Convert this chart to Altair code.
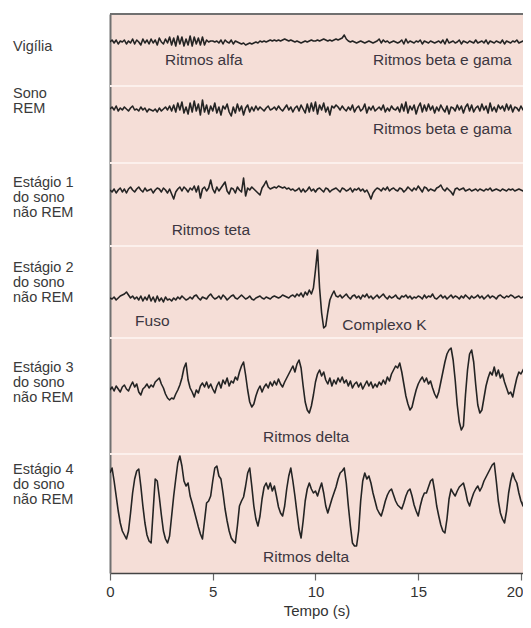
import altair as alt
import pandas as pd
import numpy as np

# ---------------- data ----------------
# time axis: one sample every 0.1 s, 0.0 .. 20.5 s
step = 0.1
n_samples = 206

# amplitudes (arbitrary units, up = positive)
vigilia = [
    0, 2, -1, 2, -2, 1, 0, 2, -2, 1,
    -1, 3, -2, 2, 0, -3, 3, -1, 2, -2,
    3, -1, 2, -3, 4, 0, -2, 3, -1, 5,
    -3, 4, -4, 6, -2, 5, -4, 3, -3, 6,
    -4, 5, -2, 4, -3, 5, -3, 2, 0, 1,
    1, 0, 1, -1, 2, -2, 2, 0, -1, 2,
    -2, 1, 0, -1, -2, -1, -3, -2, -1, -2,
    -1, 0, -1, 1, 0, 1, 0, 1, 2, 1,
    2, 1, 2, 1, 2, 3, 2, 1, 2, 1,
    0, 1, 0, -1, 0, 1, 0, 1, 2, 1,
    1, 2, 1, 2, 3, 2, 1, 2, 1, 2,
    3, 2, 3, 4, 7, 3, 1, 0, 1, 0,
    -1, 0, 1, 0, -1, 0, 1, 0, -1, 0,
    1, 3, -1, 2, 0, 1, -1, 0, 1, 0,
    -1, 0, 2, -2, 3, -1, 1, 0, -1, 1,
    0, 2, -2, 1, 0, -1, 1, 0, -1, 0,
    1, -1, 2, -2, 3, -1, 0, 1, -1, 0,
    2, -2, 1, 0, -1, 1, 0, -1, 2, -1,
    0, 1, -1, 2, -2, 1, 0, -1, 1, 0,
    -1, 2, -2, 1, 0, -1, 1, 0, 2, -1,
    0, 1, -1, 2, -1, 0,
]

sono_rem = [
    0, 2, -1, 3, -2, 1, -1, 2, 0, -2,
    1, 3, -1, 0, -2, 2, -1, 1, -3, 0,
    -1, -2, 0, -3, 1, -2, 0, 2, -1, 3,
    -2, 4, -3, 6, -1, 7, -4, 2, -5, 6,
    -3, 8, -2, 5, -6, 9, -3, 4, -5, 3,
    -2, 6, -4, 2, -6, 3, 0, 5, -3, -7,
    2, -4, 5, -2, 3, -6, 1, 4, -3, 2,
    -2, 3, -1, 2, 0, -2, 1, 3, -1, 0,
    2, -1, 3, 0, -2, 1, 4, -1, 2, -3,
    1, 3, -2, 4, 0, -4, 5, -3, 6, -2,
    7, -5, 4, -1, 6, -3, 2, -6, 3, 1,
    4, 2, -1, 3, 0, -2, 2, -1, 4, -3,
    1, 3, -2, 0, 5, -4, 2, -1, 3, -2,
    0, 2, -1, 4, -3, 1, -2, 3, 0, -1,
    2, -3, 5, -2, 7, -4, 3, -1, 4, -5,
    2, 6, -3, 4, -2, 5, -1, 3, -4, 2,
    -2, 4, 0, -3, 3, -5, 2, 1, -2, 4,
    -1, 3, -4, 2, 5, -2, 4, -3, 1, 3,
    -2, 5, -1, 3, -4, 6, -2, 2, -3, 4,
    0, 3, -2, 5, -1, 4, -3, 2, 1, -2,
    3, -1, 4, -2, 2, 0,
]

estagio1 = [
    0, -2, 1, -3, 0, 2, -2, 1, -3, 1,
    3, 0, -2, 1, 3, 0, -2, 2, -1, 0,
    1, -3, 0, 2, 1, -2, 2, 0, -3, 1,
    -4, -9, -2, 1, 3, -1, 3, 1, -2, 2,
    0, 4, -2, 4, -8, 1, 3, -1, 2, 10,
    1, -3, 3, -1, 2, 5, 8, -1, -4, 2,
    1, -3, 3, 0, -2, 12, -6, 2, 0, 3,
    1, -1, -3, -5, 2, 5, 9, 3, 1, 2,
    3, 2, 4, 3, 2, 3, 1, 2, 0, 1,
    -1, 0, 2, -2, 1, -2, 0, 3, -1, 1,
    -2, 1, 2, 0, -2, 2, 1, -2, 0, 1,
    2, 0, -2, 2, 1, -1, 0, 2, -2, 1,
    0, 2, -1, 1, -2, 0, -4, -9, -3, 0,
    2, 1, -1, 2, 0, 3, -1, 1, 2, 0,
    -1, 2, 1, -2, 0, 3, 1, -1, 2, 0,
    4, 1, -2, 3, 2, -1, 1, 0, -1, 2,
    3, 5, 1, -1, 2, 0, -2, -5, 1, 2,
    0, 1, 2, -1, 0, 1, -1, 0, 1, -1,
    1, 0, -1, 1, 0, 2, -1, 0, 1, 0,
    -1, 1, 0, -1, 1, 0, 1, -1, 0, 1,
    0, -1, 1, 0, -1, 0,
]

estagio2 = [
    0, -1, 1, -2, 0, 2, 3, 4, 6, 3,
    0, 2, -1, 1, -2, 2, -3, 1, -2, 3,
    -3, 1, -4, 2, -3, 0, -4, 1, -2, -1,
    -3, 0, -2, 1, -1, 2, 0, -2, -1, 1,
    -1, 2, 3, 0, -2, 1, 0, -1, 2, 4,
    1, -1, 0, 2, -1, 3, 1, -2, 0, 2,
    3, 0, -1, 1, 3, 1, -1, 0, 2, -1,
    -2, 0, 1, 2, 0, -1, 1, 0, -1, 1,
    2, 1, 0, 1, 3, 2, 1, 0, 2, 3,
    1, 4, 2, 5, 1, 6, 3, 8, 4, 10,
    28, 48, 10, -15, -30, -28, -14, -2, 3, 7,
    2, 1, 3, 0, 2, 4, 1, -1, 2, 3,
    0, 2, -1, 3, 1, 4, 0, 2, -1, 1,
    3, 0, 2, 4, 1, -1, 2, 0, 1, 3,
    0, -1, 2, 1, 3, 0, 2, -1, 1, 0,
    2, 1, -1, 3, 0, 2, 1, 4, 0, -1,
    1, 3, 0, 2, -1, 1, 3, 0, 2, 1,
    -1, 2, 0, 3, 1, -1, 2, 0, 1, 3,
    0, 2, -1, 1, 3, 0, 2, 1, -1, 2,
    3, 1, 0, 2, 1, 3, 2, 0, 1, 2,
    0, 1, -1, 2, 1, 0,
]

estagio3 = [
    0, 3, -1, 4, 1, -2, 3, 5, 1, -1,
    4, 8, 3, 6, -2, -5, 1, 3, 6, 2,
    5, 3, 8, 10, 12, 6, 2, -4, -8, -10,
    -8, -9, -4, 0, 5, 12, 22, 27, 10, 2,
    -2, -7, 0, -3, 4, 7, 3, 8, 2, 6,
    1, -3, 4, 8, 2, 10, 6, 12, 4, 9,
    7, 13, 10, 18, 24, 28, 15, 0, -12, -17,
    -14, -6, 0, 4, -2, 3, 6, 2, 8, 4,
    9, 5, 11, 6, 3, 8, 12, 16, 20, 24,
    18, 26, 30, 22, 4, -12, -20, -23, -16, -5,
    8, 16, 20, 14, 18, 10, 6, 12, 4, 10,
    6, 12, 8, 13, 7, 10, 4, 9, 2, 6,
    8, 3, 7, 1, 5, 9, 4, 8, 2, 6,
    3, 8, 5, 10, 6, 13, 9, 16, 20, 24,
    22, 27, 18, 6, -6, -14, -20, -17, -8, 0,
    6, 10, 13, 8, 12, 6, 9, 2, -4, -8,
    -2, 8, 18, 28, 36, 40, 42, 30, 10, -15,
    -32, -40, -36, -5, 20, 36, 40, 28, 5, -15,
    -23, -20, -8, 4, 12, 18, 15, 23, 14, 20,
    12, 16, 8, 2, -4, -2, -7, 3, 12, 18,
    16, 20, 23, 14, 18, 10,
]

estagio4 = [
    28, 33, 20, 5, -10, -22, -30, -34, -38, -30,
    -12, 8, 22, 30, 32, 15, -5, -22, -34, -40,
    -42, -10, 22, 20, 4, -14, -30, -38, -42, -35,
    -15, 5, 22, 38, 45, 35, 20, 15, 18, 5,
    -2, -10, -18, -26, -33, -38, -20, -2, 0, 5,
    20, 33, 35, 25, 22, 8, -8, -20, -30, -37,
    -40, -42, -25, -5, 0, 4, 15, 28, 33, 15,
    -5, -18, -25, -15, 2, 14, 18, 12, 18, 10,
    15, 5, -6, -12, -15, -5, 12, 25, 33, 20,
    5, -12, -28, -37, -20, 0, 12, 18, 12, 8,
    10, 5, 12, 18, 8, -5, -12, -5, 2, 8,
    14, 22, 28, 30, 33, 18, -5, -25, -42, -45,
    -45, -30, 0, 20, 28, 22, 25, 18, 8, 0,
    -8, -12, -15, -8, 0, 6, 10, 12, 6, 0,
    -4, -6, -8, -2, 5, 10, 12, 5, -4, -10,
    -15, -5, 3, 8, 8, 14, 20, 22, 10, -5,
    -15, -24, -30, -32, -18, 2, 12, 8, 5, 10,
    14, 16, 18, 10, 0, -5, 2, 8, 12, 15,
    10, 14, 20, 24, 28, 32, 36, 38, 20, 0,
    -12, -18, -22, -10, 8, 20, 28, 22, 18, 8,
    0, -5, 10, 28, 38, 30,
]

row_names = ["Vigília", "Sono REM", "Estágio 1", "Estágio 2", "Estágio 3", "Estágio 4"]
row_labels = [
    ["Vigília"],
    ["Sono", "REM"],
    ["Estágio 1", "do sono", "não REM"],
    ["Estágio 2", "do sono", "não REM"],
    ["Estágio 3", "do sono", "não REM"],
    ["Estágio 4", "do sono", "não REM"],
]
notes = ["Ritmos alfa", "Ritmos beta e gama", "Ritmos beta e gama", "Ritmos teta",
         "Fuso", "Complexo K", "Ritmos delta", "Ritmos delta"]
note_rows = [0, 0, 1, 2, 3, 3, 4, 5]
note_times = [2.68, 12.8, 12.8, 3.0, 1.22, 11.3, 7.45, 7.45]
tick_values = [0, 5, 10, 15, 20]

# ---------------- layout (plot units = px from bottom of plot) ----------------
PLOT_H = 559
PLOT_W = 413          # svg must stay within the 515 px page body
X_MAX = 20.1
row_center = [531, 464, 383, 275, 183, 72]
separators = [487, 410, 327, 235, 119]
label_first = [526, 479, 390, 305, 205, 103]   # first line of each left label
note_offset = [-18, -20, -40, -23, -47, -56]   # note centre relative to row centre
note_extra = {5: -4}
LINE_H = 15

signals = [vigilia, sono_rem, estagio1, estagio2, estagio3, estagio4]
t = np.round(np.arange(n_samples) * step, 1)

rows = []
for name, sig, c in zip(row_names, signals, row_center):
    for ti, v in zip(t, sig):
        rows.append({"t": ti, "row": name, "y": c + v})
traces = pd.DataFrame(rows)

lab = []
for i, lines in enumerate(row_labels):
    for j, s in enumerate(lines):
        lab.append({"txt": s, "y": label_first[i] - j * LINE_H})
labels_df = pd.DataFrame(lab)

nt = []
for k, (s, r, tt) in enumerate(zip(notes, note_rows, note_times)):
    nt.append({"txt": s, "t": tt, "y": row_center[r] + note_offset[r] + note_extra.get(k, 0)})
notes_df = pd.DataFrame(nt)

sep_df = pd.DataFrame({"y": separators})

FONT = "Liberation Sans"
xs = alt.Scale(domain=[0, X_MAX], nice=False, zero=False)
ys = alt.Scale(domain=[0, PLOT_H], nice=False, zero=False)

xaxis = alt.Axis(values=tick_values, title="Tempo (s)", grid=False, labelFlush=False,
                 labelAlign={"condition": {"test": "datum.value == 20", "value": "right"},
                             "value": "center"},
                 labelOffset={"condition": {"test": "datum.value == 20", "value": 2},
                              "value": 0},
                 domainColor="#444444", domainWidth=1.5, tickColor="#666666", tickSize=7,
                 tickWidth=1.2, labelFont=FONT, labelFontSize=15, labelColor="#333333",
                 labelPadding=4, titleFont=FONT, titleFontSize=15, titleFontWeight="normal",
                 titleColor="#333333", titlePadding=4, minExtent=0)
yaxis = alt.Axis(title=None, labels=False, ticks=False, grid=False,
                 domainColor="#707070", domainWidth=2, minExtent=0)

seps = alt.Chart(sep_df).mark_rule(color="#fcf0ec", strokeWidth=2).encode(
    y=alt.Y("y:Q", scale=ys, axis=yaxis)
)

lines = alt.Chart(traces).mark_line(color="#242424", strokeWidth=1.6, clip=True,
                                    strokeJoin="round").encode(
    x=alt.X("t:Q", scale=xs, axis=xaxis),
    y=alt.Y("y:Q", scale=ys, axis=yaxis),
    detail="row:N",
)

notes_layer = alt.Chart(notes_df).mark_text(align="left", baseline="middle", font=FONT,
                                            fontSize=15.5, color="#3c3640").encode(
    x=alt.X("t:Q", scale=xs), y=alt.Y("y:Q", scale=ys), text="txt:N"
)

labels_layer = alt.Chart(labels_df).mark_text(align="left", baseline="middle", font=FONT,
                                              fontSize=14.5, color="#3a3a3a").encode(
    x=alt.value(-97), y=alt.Y("y:Q", scale=ys), text="txt:N"
)

top_border = alt.Chart(sep_df).mark_rule(color="#707070", strokeWidth=2).encode(
    y=alt.value(0)
)

chart = alt.layer(seps, lines, notes_layer, labels_layer, top_border).properties(
    width=PLOT_W, height=PLOT_H,
    autosize=alt.AutoSizeParams(type="none"),
    padding={"left": 102, "top": 6, "right": 0, "bottom": 47},
).configure(background="white").configure_view(fill="#f5ded7", stroke=None)

chart.save("out.html", embed_options={"renderer": "svg", "actions": False})
